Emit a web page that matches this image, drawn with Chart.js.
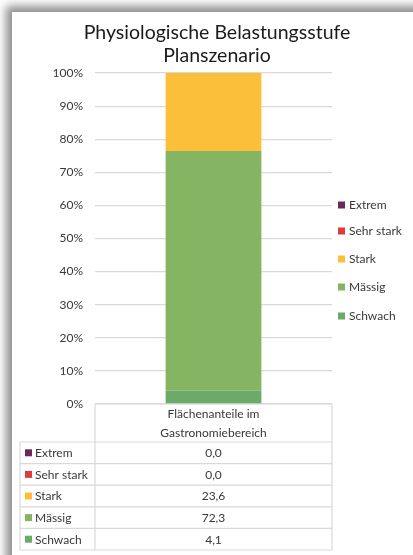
<!DOCTYPE html>
<html>
<head>
<meta charset="utf-8">
<script src="https://cdn.jsdelivr.net/npm/chart.js@4.4.1/dist/chart.umd.min.js"></script>
<style>
  html, body { margin: 0; padding: 0; background: #fff; overflow: hidden; }
  #frame {
    position: absolute; left: 12px; top: 12px; width: 440px; height: 600px;
    background: #fff; box-shadow: -3px -3px 9px 3px rgba(0,0,0,0.45);
  }
  #wrap { position: absolute; left: 0; top: 0; width: 413px; height: 555px; }
</style>
</head>
<body>
<div id="frame"></div>
<div id="wrap"><canvas id="chart"></canvas></div>
<script>
// ---------- DATA ----------
const titleLines = ["Physiologische Belastungsstufe", "Planszenario"];
const categories = ["Flächenanteile im Gastronomiebereich"];
const headerLines = ["Flächenanteile im", "Gastronomiebereich"];
// bottom to top in the stack
const seriesNames = ["Schwach", "Mässig", "Stark", "Sehr stark", "Extrem"];
const seriesValues = [4.1, 72.3, 23.6, 0.0, 0.0];
const seriesColors = ["#6caa67", "#85b463", "#fbbf3a", "#e0393e", "#6b2a57"];

const FONT = "Lato, 'Open Sans', sans-serif";
const TXT = "#383838";
const LINE = "#d9d9d9";

// ---------- TITLE, LEGEND, TABLE ----------
const extrasPlugin = {
  id: "extras",
  afterDraw(chart) {
    const ctx = chart.ctx;
    const area = chart.chartArea;
    ctx.save();

    // title
    ctx.fillStyle = "#1a1a1a";
    ctx.font = "19.5px " + FONT;
    ctx.textAlign = "center";
    ctx.textBaseline = "middle";
    ctx.fillText(titleLines[0], 217, 33);
    ctx.fillText(titleLines[1], 217, 55.5);

    // legend (top item = last series)
    const legendY = [205, 231, 259, 287, 316];
    ctx.font = "12px " + FONT;
    ctx.textAlign = "left";
    for (let i = 0; i < seriesNames.length; i++) {
      const idx = seriesNames.length - 1 - i;
      const y = legendY[i];
      ctx.fillStyle = seriesColors[idx];
      ctx.fillRect(338, y - 3.5, 7, 7);
      ctx.fillStyle = TXT;
      ctx.fillText(seriesNames[idx], 349, y + 0.5);
    }

    // data table
    const left = 20, mid = area.left, right = 332;
    const top = area.bottom, headBottom = 442, rowH = 21.6;
    const nRows = seriesNames.length;
    const bottom = headBottom + rowH * nRows;
    ctx.strokeStyle = LINE;
    ctx.lineWidth = 1.2;
    ctx.beginPath();
    // header cell
    ctx.moveTo(mid, top); ctx.lineTo(right, top);
    ctx.moveTo(mid, top); ctx.lineTo(mid, bottom);
    ctx.moveTo(right, top); ctx.lineTo(right, bottom);
    ctx.moveTo(left, headBottom); ctx.lineTo(left, bottom);
    for (let r = 0; r <= nRows; r++) {
      const y = headBottom + rowH * r;
      ctx.moveTo(left, y); ctx.lineTo(right, y);
    }
    ctx.stroke();

    ctx.fillStyle = TXT;
    ctx.textAlign = "center";
    const cx = (mid + right) / 2;
    ctx.fillText(headerLines[0], cx, 414);
    ctx.fillText(headerLines[1], cx, 433);

    for (let i = 0; i < nRows; i++) {
      const idx = nRows - 1 - i;
      const y = headBottom + rowH * i + rowH / 2;
      ctx.fillStyle = seriesColors[idx];
      ctx.fillRect(25, y - 3.5, 7, 7);
      ctx.fillStyle = TXT;
      ctx.textAlign = "left";
      ctx.fillText(seriesNames[idx], 35, y + 0.5);
      ctx.textAlign = "center";
      ctx.fillText(seriesValues[idx].toFixed(1).replace(".", ","), cx, y + 0.5);
    }
    ctx.restore();
  }
};

// ---------- CHART ----------
const datasets = seriesNames.map((name, i) => ({
  label: name,
  data: [seriesValues[i]],
  backgroundColor: seriesColors[i],
  borderWidth: 0,
  categoryPercentage: 1,
  barPercentage: 0.404
}));

new Chart(document.getElementById("chart"), {
  type: "bar",
  data: { labels: categories, datasets },
  plugins: [extrasPlugin],
  options: {
    responsive: true,
    maintainAspectRatio: false,
    animation: false,
    layout: { padding: { left: 12, right: 81, top: 73, bottom: 151 } },
    plugins: {
      legend: { display: false },
      title: { display: false },
      tooltip: { enabled: false }
    },
    scales: {
      x: { stacked: true, display: false },
      y: {
        stacked: true,
        min: 0,
        max: 100,
        ticks: {
          stepSize: 10,
          padding: 12,
          color: TXT,
          font: { family: FONT, size: 12 },
          callback: v => v + "%"
        },
        grid: { color: LINE, lineWidth: 1.2, drawTicks: false },
        border: { display: false },
        afterFit(scale) { scale.width = 83; }
      }
    }
  }
});
</script>
</body>
</html>
